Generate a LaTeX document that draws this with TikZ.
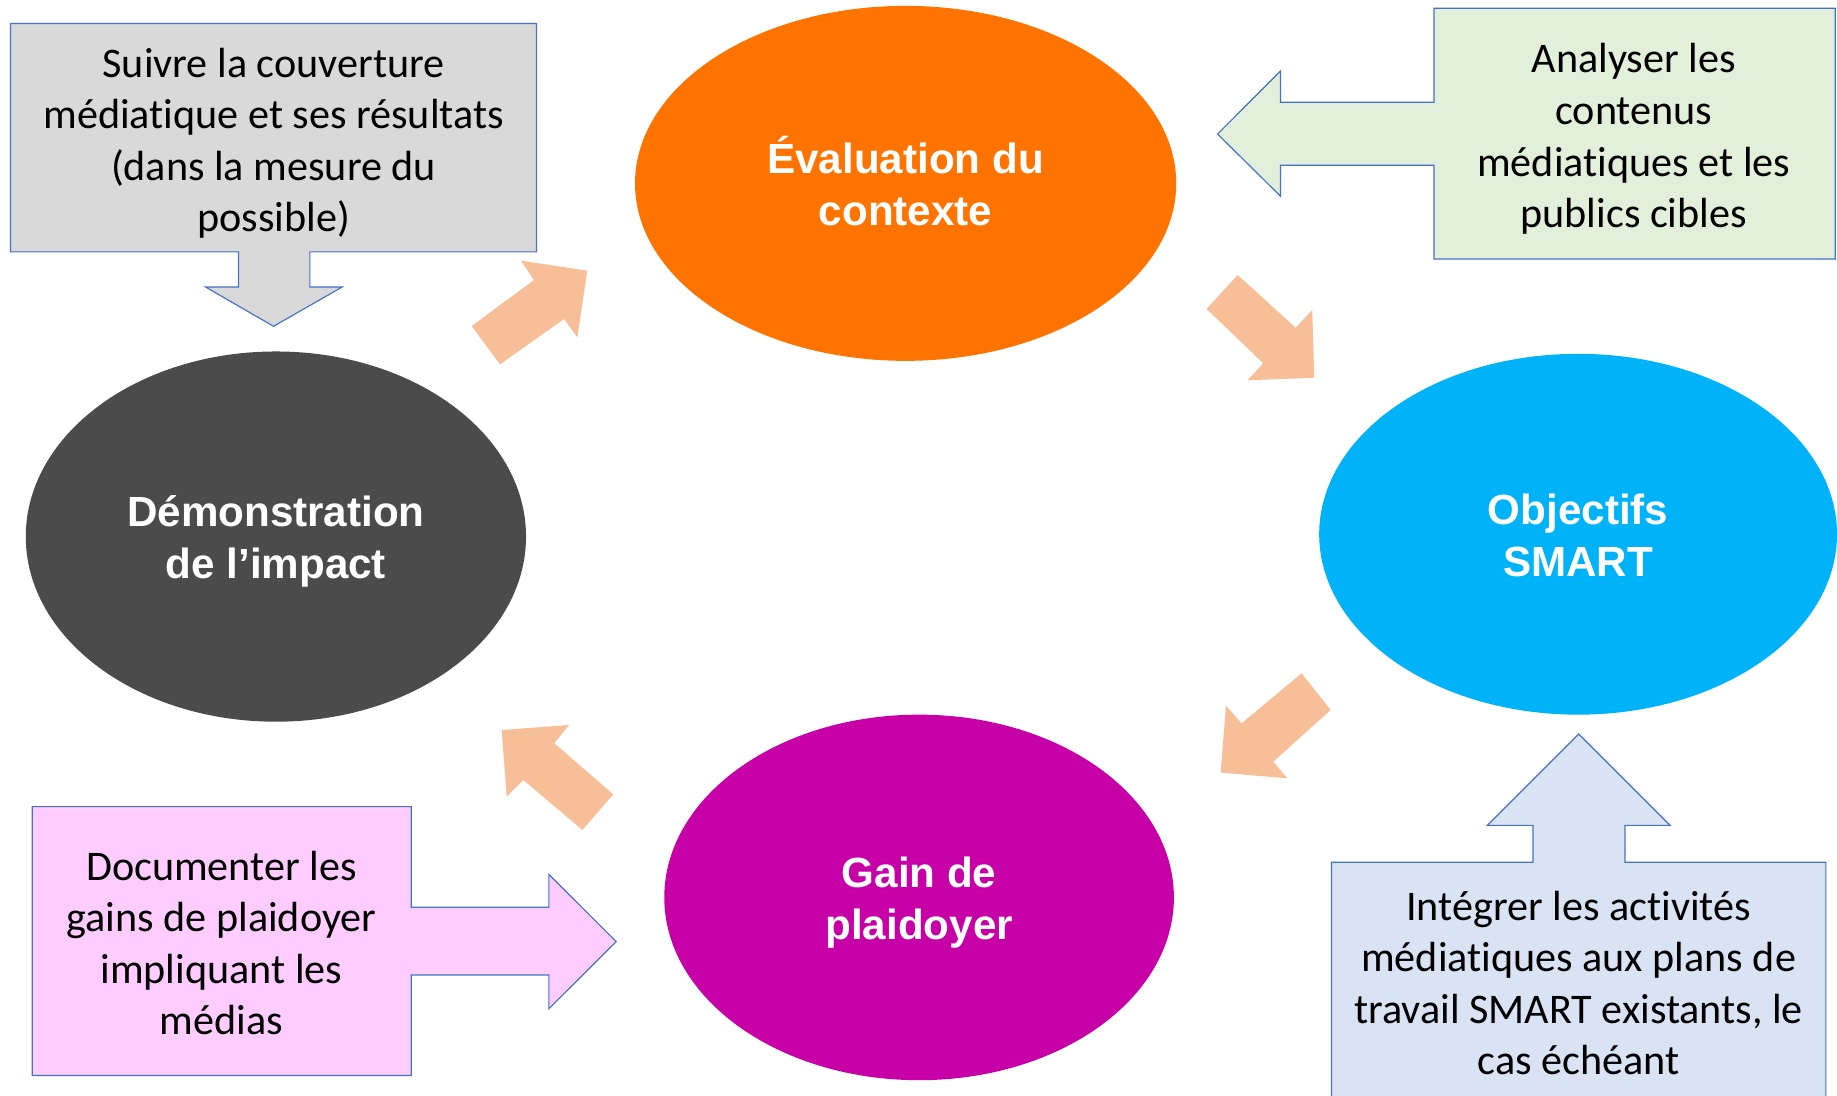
\documentclass[tikz,border=0pt]{standalone}
\usepackage{fontspec}
\setmainfont{Carlito}[Ligatures={NoCommon,NoContextual},Contextuals=NoAlternate]
\newfontfamily\arialfont{Liberation Sans}
\usetikzlibrary{shapes.geometric}
\newcommand{\tnolig}{t\kern0pt i}
\definecolor{cOrange}{HTML}{FF7400}
\definecolor{cBlue}{HTML}{00B3F8}
\definecolor{cMagenta}{HTML}{C600A6}
\definecolor{cDark}{HTML}{4B4B4B}
\definecolor{cPeach}{HTML}{F6BF98}
\definecolor{cBorder}{HTML}{4472C4}
\definecolor{fGray}{HTML}{D9D9D9}
\definecolor{fGreen}{HTML}{E2EFDA}
\definecolor{fLblue}{HTML}{DAE3F3}
\definecolor{fPink}{HTML}{FFCCFF}
\tikzset{
  stage/.style={ellipse, inner sep=0pt, outer sep=0pt, text=white, align=center,
    font=\arialfont\bfseries\fontsize{36}{44}\selectfont},
  callout/.style={draw=cBorder, line width=1pt, line join=miter},
  calltext/.style={align=center, inner sep=0pt, text=black,
    font=\fontsize{36}{44}\selectfont},
  cyclearrow/.style={fill=cPeach}
}
\begin{document}
\begin{tikzpicture}[x=1pt,y=-1pt]
\useasboundingbox (0,0) rectangle (1568,935);
\fill[white] (0,0) rectangle (1568,935);

% stages
\node[stage, fill=cOrange, minimum width=462pt, minimum height=303pt] (eval) at (773,156.5) {};
\node[stage, fill=cBlue, minimum width=442pt, minimum height=308pt] (smart) at (1347,456) {};
\node[stage, fill=cMagenta, minimum width=435pt, minimum height=312pt] (gain) at (784.5,766) {};
\node[stage, fill=cDark, minimum width=427pt, minimum height=316pt] (demo) at (235.5,458) {};
\node[stage] (evalT) at (773,161) {\strut Évaluation du\\ contexte\strut};
\node[stage] (smartT) at (1347,461) {\strut Objectifs\\ SMART\strut};
\node[stage] (gainT) at (784.5,771) {\strut Gain de\\ plaidoyer\strut};
\node[stage] (demoT) at (235.5,463) {\strut Démonstration\\ de l’impact\strut};

% cycle arrows
\fill[cyclearrow] (402.6,278.3) -- (455.8,239) -- (444.7,222.5) -- (501.3,231)
  -- (492.8,287.9) -- (481.4,272.3) -- (426.8,311) -- cycle;
\fill[cyclearrow] (1056.4,234.7) -- (1029.9,263.7) -- (1078.3,310.1) -- (1064.9,324.6)
  -- (1121.8,322.4) -- (1120.1,264.6) -- (1105.9,279.7) -- cycle;
\fill[cyclearrow] (1111,574.7) -- (1135.8,606) -- (1086.8,650.1) -- (1098.8,664.3)
  -- (1041.9,659.5) -- (1046.4,602.3) -- (1059.8,617.4) -- cycle;
\fill[cyclearrow] (428.2,623.1) -- (485.7,618.8) -- (473.1,634.4) -- (523.5,678)
  -- (497.1,708.4) -- (446.7,665.8) -- (432.5,680) -- cycle;

% callout A (gray, arrow down)
\draw[callout, fill=fGray] (9,20) -- (458,20) -- (458,215) -- (264.5,215) -- (264.5,245)
  -- (292,245) -- (233.5,278.5) -- (175.5,245) -- (203.5,245) -- (203.5,215) -- (9,215) -- cycle;
\node[calltext] (tA) at (233.5,123)
  {\strut Suivre la couverture\\ média\tnolig que et ses résultats\\ (dans la mesure du\\ possible)\strut};

% callout B (green, arrow left)
\draw[callout, fill=fGreen] (1224,7) -- (1566.5,7) -- (1566.5,221) -- (1224,221) -- (1224,141)
  -- (1093,141) -- (1093,167.5) -- (1039.3,114.4) -- (1093,60.5) -- (1093,87.3) -- (1224,87.3) -- cycle;
\node[calltext] (tB) at (1394.5,119.5)
  {\strut Analyser les\\ contenus\\ média\tnolig ques et les\\ publics cibles\strut};

% callout C (light blue, arrow up)
\draw[callout, fill=fLblue] (1136.5,940) -- (1136.5,736) -- (1308.5,736) -- (1308.5,704.5)
  -- (1269.5,704.5) -- (1347.5,626.5) -- (1425.5,704.5) -- (1387,704.5) -- (1387,736)
  -- (1558.5,736) -- (1558.5,940) -- cycle;
\node[calltext] (tC) at (1347.5,842.5)
  {\strut Intégrer les ac\tnolig vités\\ média\tnolig ques aux plans de\\ travail SMART existants, le\\ cas échéant\strut};

% callout D (pink, arrow right)
\draw[callout, fill=fPink] (27.5,688.5) -- (351,688.5) -- (351,774.4) -- (468.5,774.4)
  -- (468.5,746.3) -- (526,803.7) -- (468.5,861) -- (468.5,832.2) -- (351,832.2)
  -- (351,918) -- (27.5,918) -- cycle;
\node[calltext] (tD) at (189,808.5)
  {\strut Documenter les\\ gains de plaidoyer\\ impliquant les\\ médias\strut};
\end{tikzpicture}
\end{document}
